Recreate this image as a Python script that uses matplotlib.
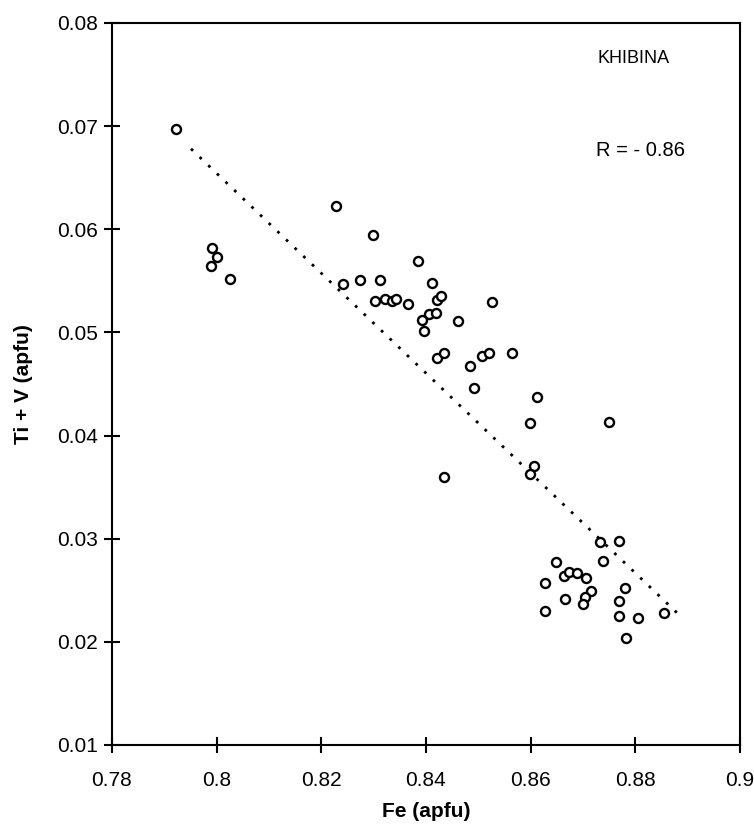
import matplotlib
matplotlib.use("Agg")
import matplotlib.pyplot as plt

plt.rcParams['font.family'] = ['Liberation Sans', 'DejaVu Sans']

# Fe (apfu) vs Ti + V (apfu)
fe = [0.7922, 0.8228, 0.8299, 0.7991, 0.8000, 0.7989, 0.8026, 0.8384,
      0.8241, 0.8273, 0.8312, 0.8412, 0.8303, 0.8321, 0.8335, 0.8342,
      0.8365, 0.8421, 0.8429, 0.8526, 0.8406, 0.8420, 0.8393, 0.8396,
      0.8461, 0.8421, 0.8434, 0.8485, 0.8507, 0.8520, 0.8565, 0.8492,
      0.8613, 0.8599, 0.8750, 0.8607, 0.8599, 0.8435,
      0.8732, 0.8768, 0.8648, 0.8738, 0.8663, 0.8674, 0.8689, 0.8705,
      0.8628, 0.8716, 0.8780, 0.8665, 0.8703, 0.8701, 0.8769, 0.8628,
      0.8769, 0.8805, 0.8855, 0.8783]
tiv = [0.0697, 0.0623, 0.0594, 0.0582, 0.0573, 0.0564, 0.0552, 0.0569,
       0.0547, 0.0551, 0.0551, 0.0548, 0.0530, 0.0532, 0.0530, 0.0532,
       0.0528, 0.0531, 0.0535, 0.0529, 0.0518, 0.0519, 0.0512, 0.0501,
       0.0511, 0.0475, 0.0480, 0.0467, 0.0477, 0.0480, 0.0480, 0.0446,
       0.0437, 0.0412, 0.0413, 0.0370, 0.0363, 0.0360,
       0.0297, 0.0298, 0.0277, 0.0278, 0.0264, 0.0268, 0.0267, 0.0262,
       0.0257, 0.0249, 0.0252, 0.0242, 0.0243, 0.0237, 0.0240, 0.0230,
       0.0225, 0.0223, 0.0228, 0.0204]

# dotted regression line end points
trend_x = [0.7951, 0.8882]
trend_y = [0.0678, 0.0227]

f = plt.figure(figsize=(7.54, 8.36), dpi=100)
ax = f.add_axes([0.1485, 0.1089, 0.8329, 0.8636])

ax.plot(trend_x, trend_y, color='black', lw=2.0, linestyle=(0, (1, 3.3)))
ax.plot(fe, tiv, 'o', mfc='white', mec='black', ms=6.5, mew=1.7, ls='none')

ax.set_xlim(0.78, 0.9)
ax.set_ylim(0.01, 0.08)
ax.set_xticks([0.78, 0.8, 0.82, 0.84, 0.86, 0.88, 0.9])
ax.set_xticklabels(['0.78', '0.8', '0.82', '0.84', '0.86', '0.88', '0.9'])
ax.set_yticks([0.01, 0.02, 0.03, 0.04, 0.05, 0.06, 0.07, 0.08])
ax.set_yticklabels(['0.01', '0.02', '0.03', '0.04', '0.05', '0.06', '0.07', '0.08'])

for s in ax.spines.values():
    s.set_linewidth(1.5)
ax.tick_params(axis='x', direction='inout', length=11, width=1.5, labelsize=15, pad=13.5)
ax.tick_params(axis='y', direction='inout', length=11, width=1.5, labelsize=15, pad=4.5)

ax.set_xlabel("Fe (apfu)", fontsize=15, fontweight='bold')
ax.set_ylabel("Ti + V (apfu)", fontsize=15, fontweight='bold')
ax.xaxis.set_label_coords(0.5, -0.079)
ax.yaxis.set_label_coords(-0.126, 0.5)

ax.text(0.8727, 0.0766, "KHIBINA", fontsize=13, va='center', ha='left')
ax.text(0.8724, 0.0676, "R = - 0.86", fontsize=14.5, va='center', ha='left')

f.savefig("out.png", dpi=100)
